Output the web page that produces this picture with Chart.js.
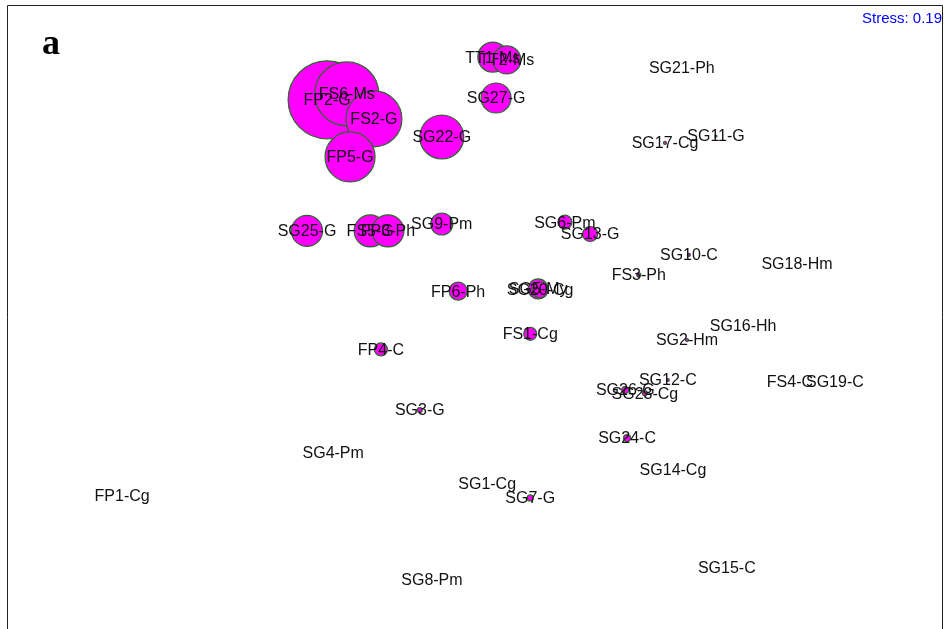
<!DOCTYPE html>
<html>
<head>
<meta charset="utf-8">
<script src="https://cdn.jsdelivr.net/npm/chart.js@4/dist/chart.umd.min.js"></script>
<style>
  html, body { margin: 0; padding: 0; background: #fff; }
  #graph_page { width: 948px; height: 629px; }
</style>
</head>
<body>
<div id="graph_page"><canvas id="graph_chart_0" width="948" height="629"></canvas></div>
<script>
// NMDS site scores, bubble size = radius (px) of each sample
const sampleLabels = ['FP2-G', 'FS6-Ms', 'FS2-G', 'FP5-G', 'SG22-G', 'SG27-G', 'TT1-Ms', 'TT2-Ms',
  'SG25-G', 'FS5-G', 'FP3-Ph', 'SG9-Pm', 'SG6-Pm', 'SG13-G', 'FP6-Ph', 'SG5-My', 'SG20-Cg',
  'FP4-C', 'FS1-Cg', 'SG3-G', 'SG26-G', 'SG23-Cg', 'SG12-C', 'SG2-Hm', 'SG21-Ph', 'SG17-Cg',
  'SG11-G', 'SG10-C', 'FS3-Ph', 'SG18-Hm', 'SG16-Hh', 'FS4-C', 'SG19-C', 'SG24-C', 'SG14-Cg',
  'SG15-C', 'SG4-Pm', 'FP1-Cg', 'SG1-Cg', 'SG7-G', 'SG8-Pm'];
const nmds1 = [-0.316, -0.274, -0.216, -0.267, -0.071, 0.045, 0.038, 0.068,
  -0.359, -0.224, -0.186, -0.071, 0.192, 0.246, -0.036, 0.135, 0.139,
  -0.201, 0.118, -0.118, 0.321, 0.363, 0.412, 0.453, 0.442, 0.406,
  0.515, 0.457, 0.350, 0.688, 0.573, 0.673, 0.769, 0.325, 0.423,
  0.538, -0.303, -0.754, 0.026, 0.118, -0.092];
const nmds2 = [0.696, 0.715, 0.635, 0.513, 0.577, 0.702, 0.833, 0.824,
  0.276, 0.276, 0.276, 0.298, 0.304, 0.266, 0.083, 0.090, 0.087,
  -0.104, -0.054, -0.298, -0.234, -0.244, -0.202, -0.074, 0.798, 0.558,
  0.580, 0.199, 0.135, 0.170, -0.026, -0.208, -0.208, -0.388, -0.490,
  -0.804, -0.436, -0.571, -0.535, -0.580, -0.843];
const bubbleSize = [39, 32, 28, 25, 22, 15, 15, 14,
  15.5, 16, 16, 11, 7, 7.5, 9, 10, 8,
  6.5, 6.5, 2.5, 3.5, 2.5, 1.5, 1.5, 0, 1.5,
  1, 1.5, 2, 0, 0, 0, 0, 3.5, 0,
  0, 0, 0, 0, 3, 0];
const stressValue = 0.19;
const panelLetter = 'a';

const points = sampleLabels.map((label, i) => ({x: nmds1[i], y: nmds2[i], r: bubbleSize[i], label: label}));

const plotDecor = {
  id: 'plotDecor',
  afterDatasetsDraw(chart) {
    const ctx = chart.ctx;
    const area = chart.chartArea;
    const xs = chart.scales.x;
    const ys = chart.scales.y;
    ctx.save();
    // sample labels, centred on each point
    ctx.fillStyle = '#111';
    ctx.font = '16px "Liberation Sans", Arial, sans-serif';
    ctx.textAlign = 'center';
    ctx.textBaseline = 'middle';
    points.forEach(p => {
      ctx.fillText(p.label, xs.getPixelForValue(p.x), ys.getPixelForValue(p.y) + 1);
    });
    // frame (bottom edge falls outside the picture)
    ctx.strokeStyle = '#222';
    ctx.lineWidth = 1;
    ctx.beginPath();
    ctx.moveTo(area.left + 0.5, area.bottom + 5);
    ctx.lineTo(area.left + 0.5, area.top + 0.5);
    ctx.lineTo(area.right - 0.5, area.top + 0.5);
    ctx.lineTo(area.right - 0.5, area.bottom + 5);
    ctx.stroke();
    // stress
    ctx.fillStyle = '#0000ff';
    ctx.font = '15px "Liberation Sans", Arial, sans-serif';
    ctx.textAlign = 'right';
    ctx.textBaseline = 'alphabetic';
    ctx.fillText(`Stress: ${stressValue}`, area.right - 1, area.top + 18);
    // panel letter
    ctx.fillStyle = '#000';
    ctx.font = 'bold 36px "Liberation Serif", "Times New Roman", serif';
    ctx.textAlign = 'left';
    ctx.fillText(panelLetter, area.left + 35, area.top + 49);
    ctx.restore();
  }
};

new Chart(document.getElementById('graph_chart_0'), {
  type: 'bubble',
  data: {
    datasets: [{
      label: 'sites',
      data: points,
      backgroundColor: '#ff00ff',
      borderColor: '#2a662a',
      borderWidth: 1.2,
      hoverRadius: 0
    }]
  },
  options: {
    responsive: false,
    animation: false,
    events: [],
    layout: {autoPadding: false, padding: {left: 7, right: 5, top: 5, bottom: 0}},
    plugins: {legend: {display: false}, tooltip: {enabled: false}, title: {display: false}},
    scales: {
      x: {type: 'linear', min: -1, max: 1, display: false},
      y: {type: 'linear', min: -1, max: 1, display: false}
    }
  },
  plugins: [plotDecor]
});
</script>
</body>
</html>
